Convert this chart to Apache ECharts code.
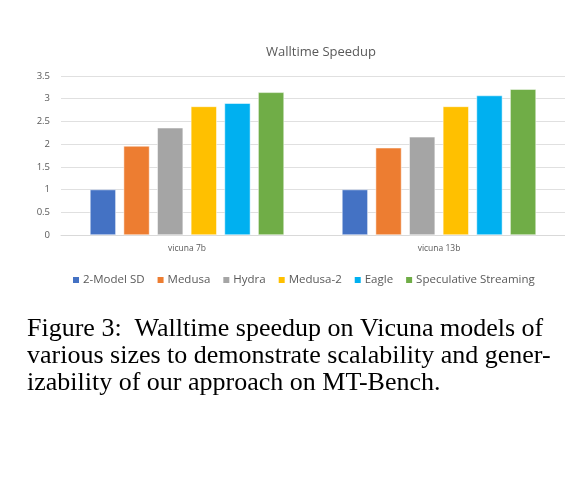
<!DOCTYPE html>
<html><head><meta charset="utf-8">
<script src="https://cdn.jsdelivr.net/npm/echarts@6/dist/echarts.min.js"></script>
<style>html,body{margin:0;padding:0;background:#fff}#c{width:565px;height:485px}</style>
</head><body><div id="c"></div>
<script>
const categories = ['vicuna 7b', 'vicuna 13b'];
const seriesNames = ['2-Model SD', 'Medusa', 'Hydra', 'Medusa-2', 'Eagle', 'Speculative Streaming'];
const sd2 = [1.0, 1.0];
const medusa = [1.96, 1.92];
const hydra = [2.36, 2.16];
const medusa2 = [2.83, 2.83];
const eagle = [2.90, 3.07];
const specStream = [3.14, 3.21];
const colors = ['#4472C4', '#ED7D31', '#A5A5A5', '#FFC000', '#00B0F0', '#70AD47'];
const values = [sd2, medusa, hydra, medusa2, eagle, specStream];
const captionLines = [
  'Figure 3:  Walltime speedup on Vicuna models of',
  'various sizes to demonstrate scalability and gener-',
  'izability of our approach on MT-Bench.'
];
const chart = echarts.init(document.getElementById('c'));
chart.setOption({
  animation: false,
  color: colors,
  title: { text: 'Walltime Speedup', left: 316, top: 41, textAlign: 'center',
    textStyle: { fontFamily: 'Open Sans', fontSize: 13, fontWeight: 'normal', color: '#595959' } },
  legend: { top: 269, left: 66, itemWidth: 8, itemHeight: 8, itemGap: 11, icon: 'rect',
    textStyle: { fontFamily: 'Open Sans', fontSize: 11.5, color: '#595959', padding: [0,0,0,-2] },
    data: seriesNames },
  grid: { left: 61, right: -20, top: 76, bottom: 250 },
  xAxis: { type: 'category', data: categories,
    axisLine: { lineStyle: { color: '#d9d9d9' } }, axisTick: { show: false },
    axisLabel: { fontFamily: 'Open Sans', fontSize: 8.5, color: '#595959', margin: 9 } },
  yAxis: { type: 'value', min: 0, max: 3.5, interval: 0.5,
    axisLine: { show: false }, axisTick: { show: false },
    splitLine: { lineStyle: { color: '#e0e0e0' } },
    axisLabel: { fontFamily: 'Open Sans', fontSize: 9.5, color: '#595959', margin: 11 } },
  series: values.map((v, i) => ({ name: seriesNames[i], type: 'bar', data: v,
    barGap: '30%', barCategoryGap: '23%',
    itemStyle: { borderColor: '#fff', borderWidth: 0.5 } })),
  graphic: captionLines.map((t, i) => ({ type: 'text', left: 27, top: 316 + i * 27,
    style: { text: t, font: '26px "Liberation Serif"', fill: '#000' } }))
});
</script></body></html>
